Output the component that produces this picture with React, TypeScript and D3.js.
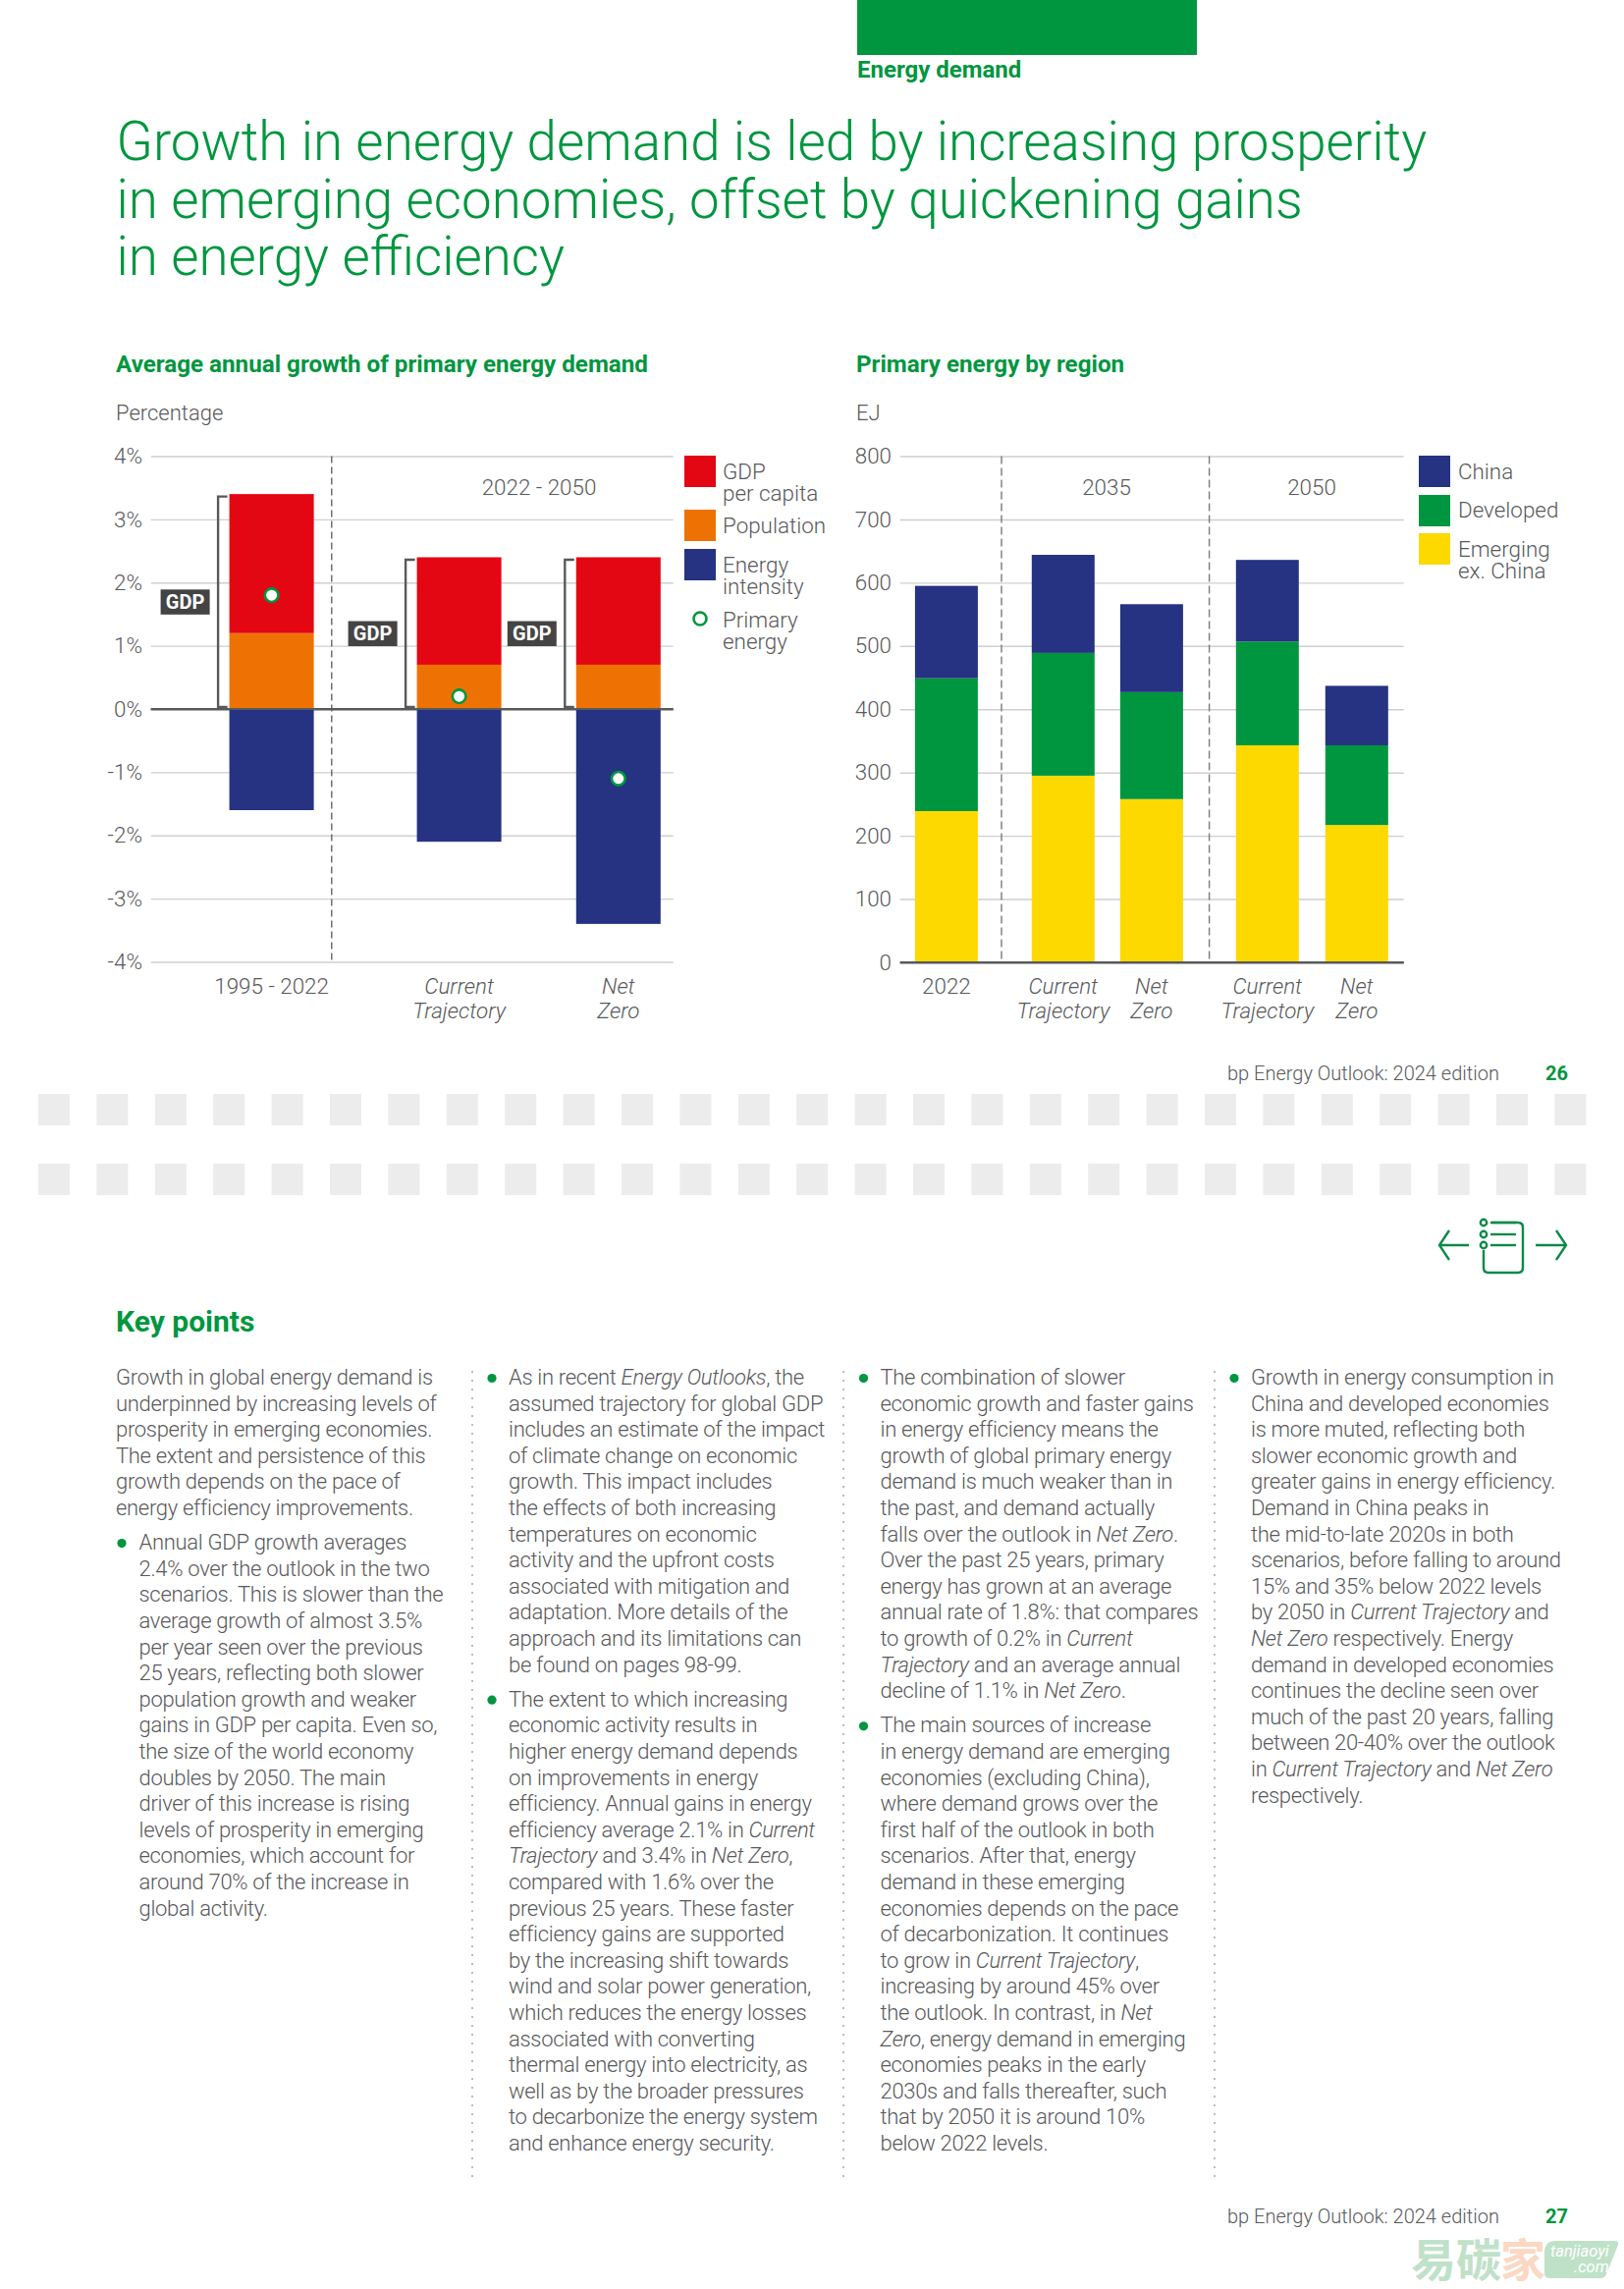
import React, { useEffect, useRef } from "react";
import * as d3 from "d3";

const GREEN = "#00963f";
const TEXT = "#58595b";
const FONT = "Roboto, sans-serif";

// left chart
const growthPeriods = ["1995 - 2022", "Current Trajectory", "Net Zero"];
const gdpPerCapita = [2.2, 1.7, 1.7];
const population = [1.2, 0.7, 0.7];
const energyIntensity = [-1.6, -2.1, -3.4];
const primaryEnergy = [1.8, 0.2, -1.1];
const growthTicks = [4, 3, 2, 1, 0, -1, -2, -3, -4];

// right chart
const regionBars = ["2022", "CT 2035", "NZ 2035", "CT 2050", "NZ 2050"];
const emerging = [239, 295, 258, 343, 217];
const developed = [210, 194, 169, 164, 126];
const china = [146, 155, 139, 129, 94];
const regionTicks = [0, 100, 200, 300, 400, 500, 600, 700, 800];

const titleLines = [
  "Growth in energy demand is led by increasing prosperity",
  "in emerging economies, offset by quickening gains",
  "in energy efficiency",
];

// text columns, *word* is italic, the first flag says if it is a bullet
const columns: { bullet: boolean; lines: string[] }[][] = [
  [
    {
      bullet: false,
      lines: [
        "Growth in global energy demand is",
        "underpinned by increasing levels of",
        "prosperity in emerging economies.",
        "The extent and persistence of this",
        "growth depends on the pace of",
        "energy efficiency improvements.",
      ],
    },
    {
      bullet: true,
      lines: [
        "Annual GDP growth averages",
        "2.4% over the outlook in the two",
        "scenarios. This is slower than the",
        "average growth of almost 3.5%",
        "per year seen over the previous",
        "25 years, reflecting both slower",
        "population growth and weaker",
        "gains in GDP per capita. Even so,",
        "the size of the world economy",
        "doubles by 2050. The main",
        "driver of this increase is rising",
        "levels of prosperity in emerging",
        "economies, which account for",
        "around 70% of the increase in",
        "global activity.",
      ],
    },
  ],
  [
    {
      bullet: true,
      lines: [
        "As in recent *Energy Outlooks*, the",
        "assumed trajectory for global GDP",
        "includes an estimate of the impact",
        "of climate change on economic",
        "growth. This impact includes",
        "the effects of both increasing",
        "temperatures on economic",
        "activity and the upfront costs",
        "associated with mitigation and",
        "adaptation. More details of the",
        "approach and its limitations can",
        "be found on pages 98-99.",
      ],
    },
    {
      bullet: true,
      lines: [
        "The extent to which increasing",
        "economic activity results in",
        "higher energy demand depends",
        "on improvements in energy",
        "efficiency. Annual gains in energy",
        "efficiency average 2.1% in *Current*",
        "*Trajectory* and 3.4% in *Net Zero*,",
        "compared with 1.6% over the",
        "previous 25 years. These faster",
        "efficiency gains are supported",
        "by the increasing shift towards",
        "wind and solar power generation,",
        "which reduces the energy losses",
        "associated with converting",
        "thermal energy into electricity, as",
        "well as by the broader pressures",
        "to decarbonize the energy system",
        "and enhance energy security.",
      ],
    },
  ],
  [
    {
      bullet: true,
      lines: [
        "The combination of slower",
        "economic growth and faster gains",
        "in energy efficiency means the",
        "growth of global primary energy",
        "demand is much weaker than in",
        "the past, and demand actually",
        "falls over the outlook in *Net Zero*.",
        "Over the past 25 years, primary",
        "energy has grown at an average",
        "annual rate of 1.8%: that compares",
        "to growth of 0.2% in *Current*",
        "*Trajectory* and an average annual",
        "decline of 1.1% in *Net Zero*.",
      ],
    },
    {
      bullet: true,
      lines: [
        "The main sources of increase",
        "in energy demand are emerging",
        "economies (excluding China),",
        "where demand grows over the",
        "first half of the outlook in both",
        "scenarios. After that, energy",
        "demand in these emerging",
        "economies depends on the pace",
        "of decarbonization. It continues",
        "to grow in *Current Trajectory*,",
        "increasing by around 45% over",
        "the outlook. In contrast, in *Net*",
        "*Zero*, energy demand in emerging",
        "economies peaks in the early",
        "2030s and falls thereafter, such",
        "that by 2050 it is around 10%",
        "below 2022 levels.",
      ],
    },
  ],
  [
    {
      bullet: true,
      lines: [
        "Growth in energy consumption in",
        "China and developed economies",
        "is more muted, reflecting both",
        "slower economic growth and",
        "greater gains in energy efficiency.",
        "Demand in China peaks in",
        "the mid-to-late 2020s in both",
        "scenarios, before falling to around",
        "15% and 35% below 2022 levels",
        "by 2050 in *Current Trajectory* and",
        "*Net Zero* respectively. Energy",
        "demand in developed economies",
        "continues the decline seen over",
        "much of the past 20 years, falling",
        "between 20-40% over the outlook",
        "in *Current Trajectory* and *Net Zero*",
        "respectively.",
      ],
    },
  ],
];

const App = () => {
  const ref = useRef<SVGSVGElement>(null);

  useEffect(() => {
    const svg = d3.select(ref.current);
    svg.selectAll("*").remove();

    const label = (
      parent: any,
      x: number,
      y: number,
      str: string,
      opts: any = {}
    ) =>
      parent
        .append("text")
        .attr("x", x)
        .attr("y", y)
        .attr("fill", opts.fill || TEXT)
        .attr("font-size", opts.size || 22.4)
        .attr("font-weight", opts.weight || 300)
        .attr("font-style", opts.italic ? "italic" : "normal")
        .attr("text-anchor", opts.anchor || "start")
        .attr("letter-spacing", opts.spacing || 0)
        .attr("font-family", opts.family || FONT)
        .text(str);

    // header
    svg.append("rect").attr("x", 873).attr("y", 0).attr("width", 346).attr("height", 56).attr("fill", GREEN);
    label(svg, 873, 79, "Energy demand", { size: 24, weight: 700, fill: GREEN });
    titleLines.forEach((t, i) =>
      label(svg, 118.5, 163 + i * 58.5, t, { size: 54.7, fill: GREEN })
    );

    // chart titles
    label(svg, 118, 379, "Average annual growth of primary energy demand", { size: 24.2, weight: 700, fill: GREEN });
    label(svg, 872, 379, "Primary energy by region", { size: 24.2, weight: 700, fill: GREEN });
    label(svg, 118, 428, "Percentage", { size: 22 });
    label(svg, 872, 428, "EJ", { size: 22 });

    const styleAxis = (g: any, zero: number) => {
      g.select(".domain").remove();
      g.selectAll(".tick line")
        .attr("stroke", (d: number) => (d === zero ? "#58595b" : "#cfcfcf"))
        .attr("stroke-width", (d: number) => (d === zero ? 2.2 : 1.4));
      g.selectAll(".tick text")
        .attr("fill", TEXT)
        .attr("font-size", 22.4)
        .attr("font-weight", 300)
        .attr("font-family", FONT);
    };

    // ---- left chart
    const yGrowth = d3.scaleLinear().domain([-4, 4]).range([979.5, 464.5]);
    // the three bars are not evenly spaced
    const growthCentre = d3.scaleOrdinal<string, number>().domain(growthPeriods).range([276.6, 467.6, 629.8]);
    const growthBarW = 86;
    const growthRows = growthPeriods.map((p, i) => ({
      period: p,
      gdp: gdpPerCapita[i],
      pop: population[i],
      eff: energyIntensity[i],
      primary: primaryEnergy[i],
    }));
    const growthStack = d3.stack<any>().keys(["pop", "gdp", "eff"]).offset(d3.stackOffsetDiverging)(growthRows);
    const growthColor: Record<string, string> = { gdp: "#e30613", pop: "#ee7203", eff: "#263282" };

    const axisL = svg.append("g").attr("transform", "translate(153.7,0)");
    axisL.call(
      d3.axisLeft(yGrowth).tickValues(growthTicks).tickSize(-532).tickPadding(8.7).tickFormat((d: any) => `${d}%`) as any
    );
    styleAxis(axisL, 0);

    growthStack.forEach((s) => {
      svg
        .append("g")
        .selectAll("rect")
        .data(s)
        .join("rect")
        .attr("x", (d: any) => growthCentre(d.data.period) - growthBarW / 2)
        .attr("width", growthBarW)
        .attr("y", (d: any) => yGrowth(Math.max(d[0], d[1])))
        .attr("height", (d: any) => Math.abs(yGrowth(d[0]) - yGrowth(d[1])))
        .attr("fill", growthColor[s.key]);
    });
    // zero line goes over the bars
    svg.append("line").attr("x1", 153.7).attr("x2", 685.7).attr("y1", yGrowth(0)).attr("y2", yGrowth(0)).attr("stroke", "#58595b").attr("stroke-width", 2.2);

    svg.append("line").attr("x1", 337.8).attr("x2", 337.8).attr("y1", yGrowth(4)).attr("y2", yGrowth(-4)).attr("stroke", "#58595b").attr("stroke-width", 1.3).attr("stroke-dasharray", "7 4");

    // GDP brackets and tags
    growthRows.forEach((r) => {
      const left = growthCentre(r.period) - growthBarW / 2;
      const top = yGrowth(r.gdp + r.pop) + 2.5;
      const bot = yGrowth(0) - 2;
      svg
        .append("path")
        .attr("d", `M${left - 2},${top}H${left - 11.5}V${bot}H${left - 2}`)
        .attr("fill", "none")
        .attr("stroke", "#58595b")
        .attr("stroke-width", 2.4);
      const mid = (top + bot) / 2;
      svg.append("rect").attr("x", left - 70).attr("y", mid - 12.5).attr("width", 50).attr("height", 25.5).attr("fill", "#444444");
      label(svg, left - 45, mid + 7, "GDP", { size: 20, weight: 700, fill: "#ffffff", anchor: "middle" });
    });

    svg
      .append("g")
      .selectAll("circle")
      .data(growthRows)
      .join("circle")
      .attr("cx", (d) => growthCentre(d.period))
      .attr("cy", (d) => yGrowth(d.primary))
      .attr("r", 6.8)
      .attr("fill", "#ffffff")
      .attr("stroke", "#00963f")
      .attr("stroke-width", 2.6);

    label(svg, 549, 504, "2022 - 2050", { anchor: "middle" });
    const growthAxisLabels = [["1995 - 2022"], ["Current", "Trajectory"], ["Net", "Zero"]];
    growthAxisLabels.forEach((lines, i) =>
      lines.forEach((l, j) =>
        label(svg, growthCentre(growthPeriods[i]), 1012 + j * 25, l, { anchor: "middle", italic: i > 0 })
      )
    );

    // left legend
    [
      { c: growthColor.gdp, y: 464, lines: ["GDP", "per capita"], ty: 488 },
      { c: growthColor.pop, y: 519, lines: ["Population"], ty: 543 },
      { c: growthColor.eff, y: 559, lines: ["Energy", "intensity"], ty: 583 },
    ].forEach((l) => {
      svg.append("rect").attr("x", 697).attr("y", l.y).attr("width", 32).attr("height", 32).attr("fill", l.c);
      l.lines.forEach((t, j) => label(svg, 736, l.ty + j * 22, t));
    });
    svg.append("circle").attr("cx", 713).attr("cy", 630).attr("r", 6.5).attr("fill", "#fff").attr("stroke", "#00963f").attr("stroke-width", 2.6);
    label(svg, 736, 638.5, "Primary");
    label(svg, 736, 660.5, "energy");

    // ---- right chart
    const yRegion = d3.scaleLinear().domain([0, 800]).range([980, 464.5]);
    const regionCentre = d3.scaleOrdinal<string, number>().domain(regionBars).range([963.9, 1082.8, 1172.9, 1290.8, 1381.8]);
    const regionBarW = 64;
    const regionRows = regionBars.map((b, i) => ({
      bar: b,
      emerging: emerging[i],
      developed: developed[i],
      china: china[i],
    }));
    const regionColor: Record<string, string> = { china: "#263282", developed: "#009640", emerging: "#fdd900" };
    const regionStack = d3.stack<any>().keys(["emerging", "developed", "china"])(regionRows);

    const axisR = svg.append("g").attr("transform", "translate(916.7,0)");
    axisR.call(
      d3.axisLeft(yRegion).tickValues(regionTicks).tickSize(-513).tickPadding(8.7) as any
    );
    styleAxis(axisR, 0);

    regionStack.forEach((s) => {
      svg
        .append("g")
        .selectAll("rect")
        .data(s)
        .join("rect")
        .attr("x", (d: any) => regionCentre(d.data.bar) - regionBarW / 2)
        .attr("width", regionBarW)
        .attr("y", (d: any) => yRegion(d[1]))
        .attr("height", (d: any) => yRegion(d[0]) - yRegion(d[1]))
        .attr("fill", regionColor[s.key]);
    });
    svg.append("line").attr("x1", 916.7).attr("x2", 1429.7).attr("y1", yRegion(0)).attr("y2", yRegion(0)).attr("stroke", "#58595b").attr("stroke-width", 2.2);

    [1020, 1231.6].forEach((x) =>
      svg.append("line").attr("x1", x).attr("x2", x).attr("y1", yRegion(800)).attr("y2", yRegion(0)).attr("stroke", "#7a7a7a").attr("stroke-width", 1.4).attr("stroke-dasharray", "8 4")
    );
    label(svg, 1127, 504, "2035", { anchor: "middle" });
    label(svg, 1336, 504, "2050", { anchor: "middle" });

    const regionAxisLabels = [["2022"], ["Current", "Trajectory"], ["Net", "Zero"], ["Current", "Trajectory"], ["Net", "Zero"]];
    regionAxisLabels.forEach((lines, i) =>
      lines.forEach((l, j) =>
        label(svg, regionCentre(regionBars[i]), 1012 + j * 25, l, { anchor: "middle", italic: i > 0 })
      )
    );

    [
      { c: regionColor.china, y: 464, lines: ["China"], ty: 488 },
      { c: regionColor.developed, y: 504, lines: ["Developed"], ty: 527 },
      { c: regionColor.emerging, y: 543, lines: ["Emerging", "ex. China"], ty: 567 },
    ].forEach((l) => {
      svg.append("rect").attr("x", 1445).attr("y", l.y).attr("width", 32).attr("height", 32).attr("fill", l.c);
      l.lines.forEach((t, j) => label(svg, 1485, l.ty + j * 22, t));
    });

    // page footers
    label(svg, 1250, 1100, "bp Energy Outlook: 2024 edition", { size: 20 });
    label(svg, 1574, 1100, "26", { size: 20, weight: 700, fill: GREEN });
    label(svg, 1250, 2264, "bp Energy Outlook: 2024 edition", { size: 20 });
    label(svg, 1574, 2264, "27", { size: 20, weight: 700, fill: GREEN });

    // page break tiles
    [1114, 1185].forEach((y) => {
      svg
        .append("g")
        .selectAll("rect")
        .data(d3.range(27))
        .join("rect")
        .attr("x", (d) => 39 + d * 59.4)
        .attr("y", y)
        .attr("width", 32)
        .attr("height", 32)
        .attr("fill", "#ececec");
    });

    // nav icon
    const nav = svg.append("g").attr("fill", "none").attr("stroke", "#0b8a47").attr("stroke-width", 2.4);
    nav.append("path").attr("d", "M1496,1268H1466M1476,1253L1466,1268L1476,1283");
    nav.append("path").attr("d", "M1564,1268H1595M1585,1253L1595,1268L1585,1283");
    nav.append("path").attr("d", "M1519,1245H1546Q1551,1245 1551,1250V1291Q1551,1296 1546,1296H1516Q1511,1296 1511,1291V1273");
    [1245, 1257, 1268].forEach((y) => {
      nav.append("circle").attr("cx", 1511).attr("cy", y).attr("r", 3.2);
      nav.append("path").attr("d", `M1518,${y}H1544`);
    });

    // key points text
    label(svg, 118, 1356, "Key points", { size: 30, weight: 700, fill: GREEN });

    const colX = [118, 501, 879.5, 1257];
    const lineH = 26.6;
    const paraGap = 8.5;
    columns.forEach((col, ci) => {
      let y = 1410;
      col.forEach((para) => {
        const tx = para.bullet ? colX[ci] + (ci === 0 ? 23.5 : 17) : colX[ci];
        if (para.bullet) {
          svg.append("circle").attr("cx", colX[ci] + (ci === 0 ? 6 : 0)).attr("cy", y - 6.5).attr("r", 4.6).attr("fill", GREEN);
        }
        para.lines.forEach((line) => {
          const t = svg
            .append("text")
            .attr("x", tx)
            .attr("y", y)
            .attr("fill", TEXT)
            .attr("font-size", 22)
            .attr("font-weight", 300)
            .attr("letter-spacing", -0.3)
            .attr("font-family", FONT);
          line.split("*").forEach((seg, k) => {
            if (seg) t.append("tspan").attr("font-style", k % 2 ? "italic" : "normal").text(seg);
          });
          y += lineH;
        });
        y += paraGap;
      });
    });

    // dotted column rules
    [481, 859, 1237].forEach((x) =>
      svg.append("line").attr("x1", x).attr("x2", x).attr("y1", 1396).attr("y2", 2218).attr("stroke", "#bdbdbd").attr("stroke-width", 2).attr("stroke-dasharray", "2 7")
    );

    // watermark
    const mark = svg.append("g").attr("font-family", "'Noto Sans CJK SC'").attr("font-weight", 700).attr("font-size", 46);
    mark.append("text").attr("x", 1437).attr("y", 2318).attr("fill", "#bfe1c8").text("易");
    mark.append("text").attr("x", 1483).attr("y", 2318).attr("fill", "#bfe1c8").text("碳");
    mark.append("text").attr("x", 1528).attr("y", 2318).attr("fill", "#fad8c3").text("家");
    svg.append("path").attr("d", "M1584,2282H1644Q1649,2282 1648,2286L1636,2316Q1634,2320 1630,2320H1578Q1573,2320 1573,2315V2292Q1574,2282 1584,2282Z").attr("fill", "#bfe1c8");
    label(svg, 1579, 2298, "tanjiaoyi", { size: 16.5, weight: 400, italic: true, fill: "#ffffff" });
    label(svg, 1603, 2314, ".com", { size: 16.5, weight: 400, italic: true, fill: "#ffffff" });
  }, []);

  return (
    <svg
      ref={ref}
      width={1654}
      height={2331}
      style={{ position: "absolute", left: 0, top: 0, display: "block", background: "#ffffff" }}
    />
  );
};

export default App;
